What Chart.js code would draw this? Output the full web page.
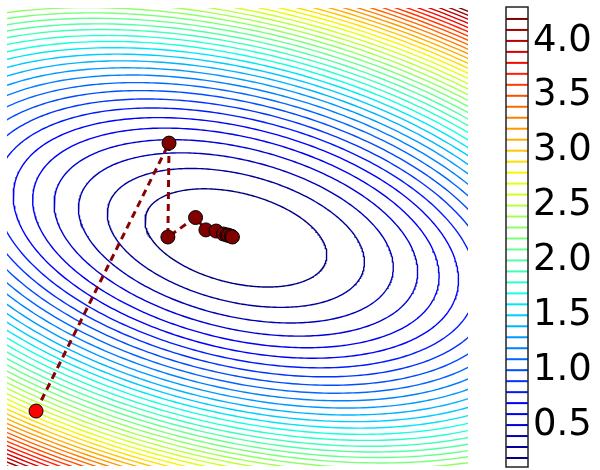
<!DOCTYPE html>
<html lang="en">
<head>
  <meta charset="UTF-8">
  <title>Gradient descent on a quadratic cost</title>
  <script src="https://cdn.jsdelivr.net/npm/chart.js"></script>
  <style>
    body {
      margin: 0;
      background-color: #ffffff;
    }
    .wrap {
      position: relative;
      width: 600px;
      height: 470px;
    }
    #contourChart {
      position: absolute;
      left: 0;
      top: 0;
    }
    #colorbarChart {
      position: absolute;
      left: 490px;
      top: 0;
    }
  </style>
</head>
<body>
  <div class="wrap">
    <canvas id="contourChart" width="476" height="470"></canvas>
    <canvas id="colorbarChart" width="110" height="470"></canvas>
  </div>

  <script>
    // contour levels of the cost
    const levels = [0.2, 0.3, 0.4, 0.5, 0.6, 0.7, 0.8, 0.9, 1.0, 1.1, 1.2, 1.3, 1.4, 1.5,
      1.6, 1.7, 1.8, 1.9, 2.0, 2.1, 2.2, 2.3, 2.4, 2.5, 2.6, 2.7, 2.8, 2.9, 3.0, 3.1,
      3.2, 3.3, 3.4, 3.5, 3.6, 3.7, 3.8, 3.9, 4.0, 4.1, 4.2];

    // cost = costMin + a*dx^2 + b*dx*dy + c*dy^2 around costCentre
    const costCoef = [0.732, 0.937, 2.474];
    const costCentre = [-0.007, -0.004];
    const costMin = 0.1;

    // descent iterates
    const stepX = [-0.874, -0.297, -0.302, -0.182, -0.137, -0.093, -0.061, -0.046, -0.039, -0.028, -0.022];
    const stepY = [-0.760, 0.410, 0.000, 0.085, 0.031, 0.026, 0.013, 0.009, 0.007, 0.004, 0.000];

    // colorbar ticks
    const cbarTicks = [0.5, 1.0, 1.5, 2.0, 2.5, 3.0, 3.5, 4.0];

    // matplotlib jet colormap
    const jetR = [[0, 0], [0.35, 0], [0.66, 1], [0.89, 1], [1, 0.5]];
    const jetG = [[0, 0], [0.125, 0], [0.375, 1], [0.64, 1], [0.91, 0], [1, 0]];
    const jetB = [[0, 0.5], [0.11, 1], [0.34, 1], [0.65, 0], [1, 0]];

    function channel(segs, t) {
      for (let i = 1; i < segs.length; i++) {
        if (t <= segs[i][0]) {
          const [x0, y0] = segs[i - 1];
          const [x1, y1] = segs[i];
          return y0 + (y1 - y0) * (t - x0) / (x1 - x0);
        }
      }
      return segs[segs.length - 1][1];
    }

    function jet(value) {
      const t = Math.min(1, Math.max(0, (value - levels[0]) / (levels[levels.length - 1] - levels[0])));
      const r = Math.round(255 * channel(jetR, t));
      const g = Math.round(255 * channel(jetG, t));
      const b = Math.round(255 * channel(jetB, t));
      return `rgb(${r},${g},${b})`;
    }

    // iso-line of the quadratic cost: an ellipse
    function levelCurve(level) {
      const [a, b, c] = costCoef;
      const h = b / 2;
      const mid = (a + c) / 2;
      const rad = Math.sqrt(((a - c) / 2) ** 2 + h * h);
      const l1 = mid + rad, l2 = mid - rad;
      const ang = 0.5 * Math.atan2(2 * h, a - c);
      const r1 = Math.sqrt((level - costMin) / l1);
      const r2 = Math.sqrt((level - costMin) / l2);
      const pts = [];
      for (let i = 0; i <= 360; i++) {
        const t = i * Math.PI / 180;
        const u = r1 * Math.cos(t), v = r2 * Math.sin(t);
        pts.push({
          x: costCentre[0] + u * Math.cos(ang) - v * Math.sin(ang),
          y: costCentre[1] + u * Math.sin(ang) + v * Math.cos(ang)
        });
      }
      return pts;
    }

    const contourSets = levels.map(level => ({
      data: levelCurve(level),
      showLine: true,
      borderColor: jet(level),
      borderWidth: 1.4,
      pointRadius: 0,
      tension: 0,
      clip: 0,
      order: 1
    }));

    const pathSet = {
      data: stepX.map((x, i) => ({ x: x, y: stepY[i] })),
      showLine: true,
      borderColor: '#8b0000',
      borderWidth: 3,
      borderDash: [7, 5],
      pointRadius: 7,
      pointBackgroundColor: stepX.map((x, i) => i === 0 ? '#ff0000' : '#800000'),
      pointBorderColor: '#000000',
      pointBorderWidth: 1,
      clip: 0,
      order: 0
    };

    new Chart(document.getElementById('contourChart'), {
      type: 'scatter',
      data: { datasets: contourSets.concat([pathSet]) },
      options: {
        responsive: false,
        animation: false,
        events: [],
        layout: { autoPadding: false, padding: { left: 7, top: 8, right: 8, bottom: 4 } },
        plugins: { legend: { display: false }, tooltip: { enabled: false } },
        scales: {
          x: { display: false, min: -1, max: 1 },
          y: { display: false, min: -1, max: 1 }
        }
      }
    });

    // colorbar frame
    const framePlugin = {
      id: 'frame',
      afterDraw(chart) {
        const { ctx, chartArea } = chart;
        ctx.save();
        ctx.strokeStyle = '#222222';
        ctx.lineWidth = 1.5;
        ctx.strokeRect(chartArea.left, chartArea.top, chartArea.right - chartArea.left, chartArea.bottom - chartArea.top);
        ctx.restore();
      }
    };

    new Chart(document.getElementById('colorbarChart'), {
      type: 'scatter',
      data: {
        datasets: [
          {
            data: levels.map(v => ({ x: 0.5, y: v })),
            pointStyle: 'line',
            pointRadius: 11,
            pointBorderColor: levels.map(jet),
            pointBorderWidth: 2
          },
          {
            data: cbarTicks.map(v => ({ x: 0.91, y: v })),
            pointStyle: 'line',
            pointRadius: 2,
            pointBorderColor: '#000000',
            pointBorderWidth: 1
          }
        ]
      },
      options: {
        responsive: false,
        animation: false,
        events: [],
        layout: { autoPadding: false, padding: { left: 16, top: 7, right: 0, bottom: 3 } },
        plugins: { legend: { display: false }, tooltip: { enabled: false } },
        scales: {
          x: { display: false, min: 0, max: 1 },
          y: {
            position: 'right',
            min: 0.118,
            max: 4.309,
            afterBuildTicks: axis => { axis.ticks = cbarTicks.map(v => ({ value: v })); },
            afterFit: axis => {
              axis.width = 72;
              axis.paddingTop = 0;
              axis.paddingBottom = 0;
            },
            grid: { display: false, drawTicks: false },
            border: { display: false },
            ticks: {
              autoSkip: false,
              padding: 5,
              color: '#000000',
              font: { family: 'DejaVu Sans', size: 37 },
              callback: v => v.toFixed(1)
            }
          }
        }
      },
      plugins: [framePlugin]
    });
  </script>
</body>
</html>
